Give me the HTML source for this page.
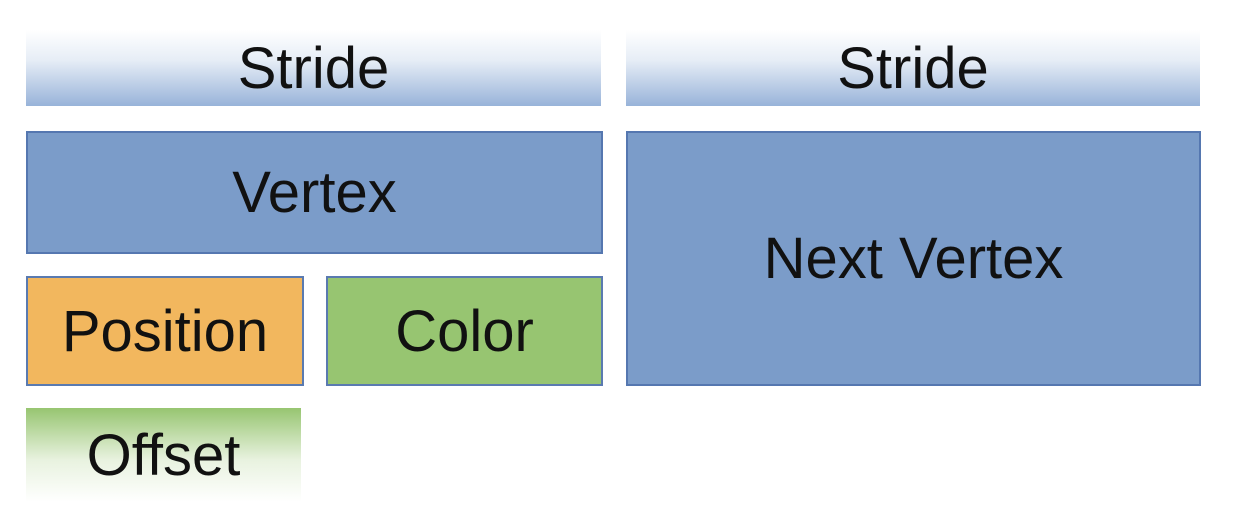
<!DOCTYPE html>
<html><head><meta charset="utf-8"><style>
body{margin:0;width:1234px;height:532px;background:#fff;position:relative;overflow:hidden;font-family:"Liberation Sans",Arial,sans-serif;}
.b{position:absolute;box-sizing:border-box;display:flex;align-items:center;justify-content:center;font-size:58px;color:#111;}
.blue{background:#7b9cc9;border:2px solid #5577b0;}
.stride{background:linear-gradient(#ffffff,#e6edf6 40%,#98b3d9 100%);}
</style></head><body>
<div class="b stride" style="left:26px;top:30px;width:575px;height:76px;">Stride</div>
<div class="b stride" style="left:626px;top:30px;width:574px;height:76px;">Stride</div>
<div class="b blue" style="left:26px;top:131px;width:577px;height:123px;">Vertex</div>
<div class="b blue" style="left:626px;top:131px;width:575px;height:255px;">Next Vertex</div>
<div class="b" style="left:26px;top:276px;width:278px;height:110px;background:#f2b75e;border:2px solid #5a7ab0;">Position</div>
<div class="b" style="left:326px;top:276px;width:277px;height:110px;background:#97c571;border:2px solid #5a7ab0;">Color</div>
<div class="b" style="left:26px;top:408px;width:275px;height:94px;background:linear-gradient(#97c571,#e8f2df 55%,#ffffff);">Offset</div>
</body></html>
